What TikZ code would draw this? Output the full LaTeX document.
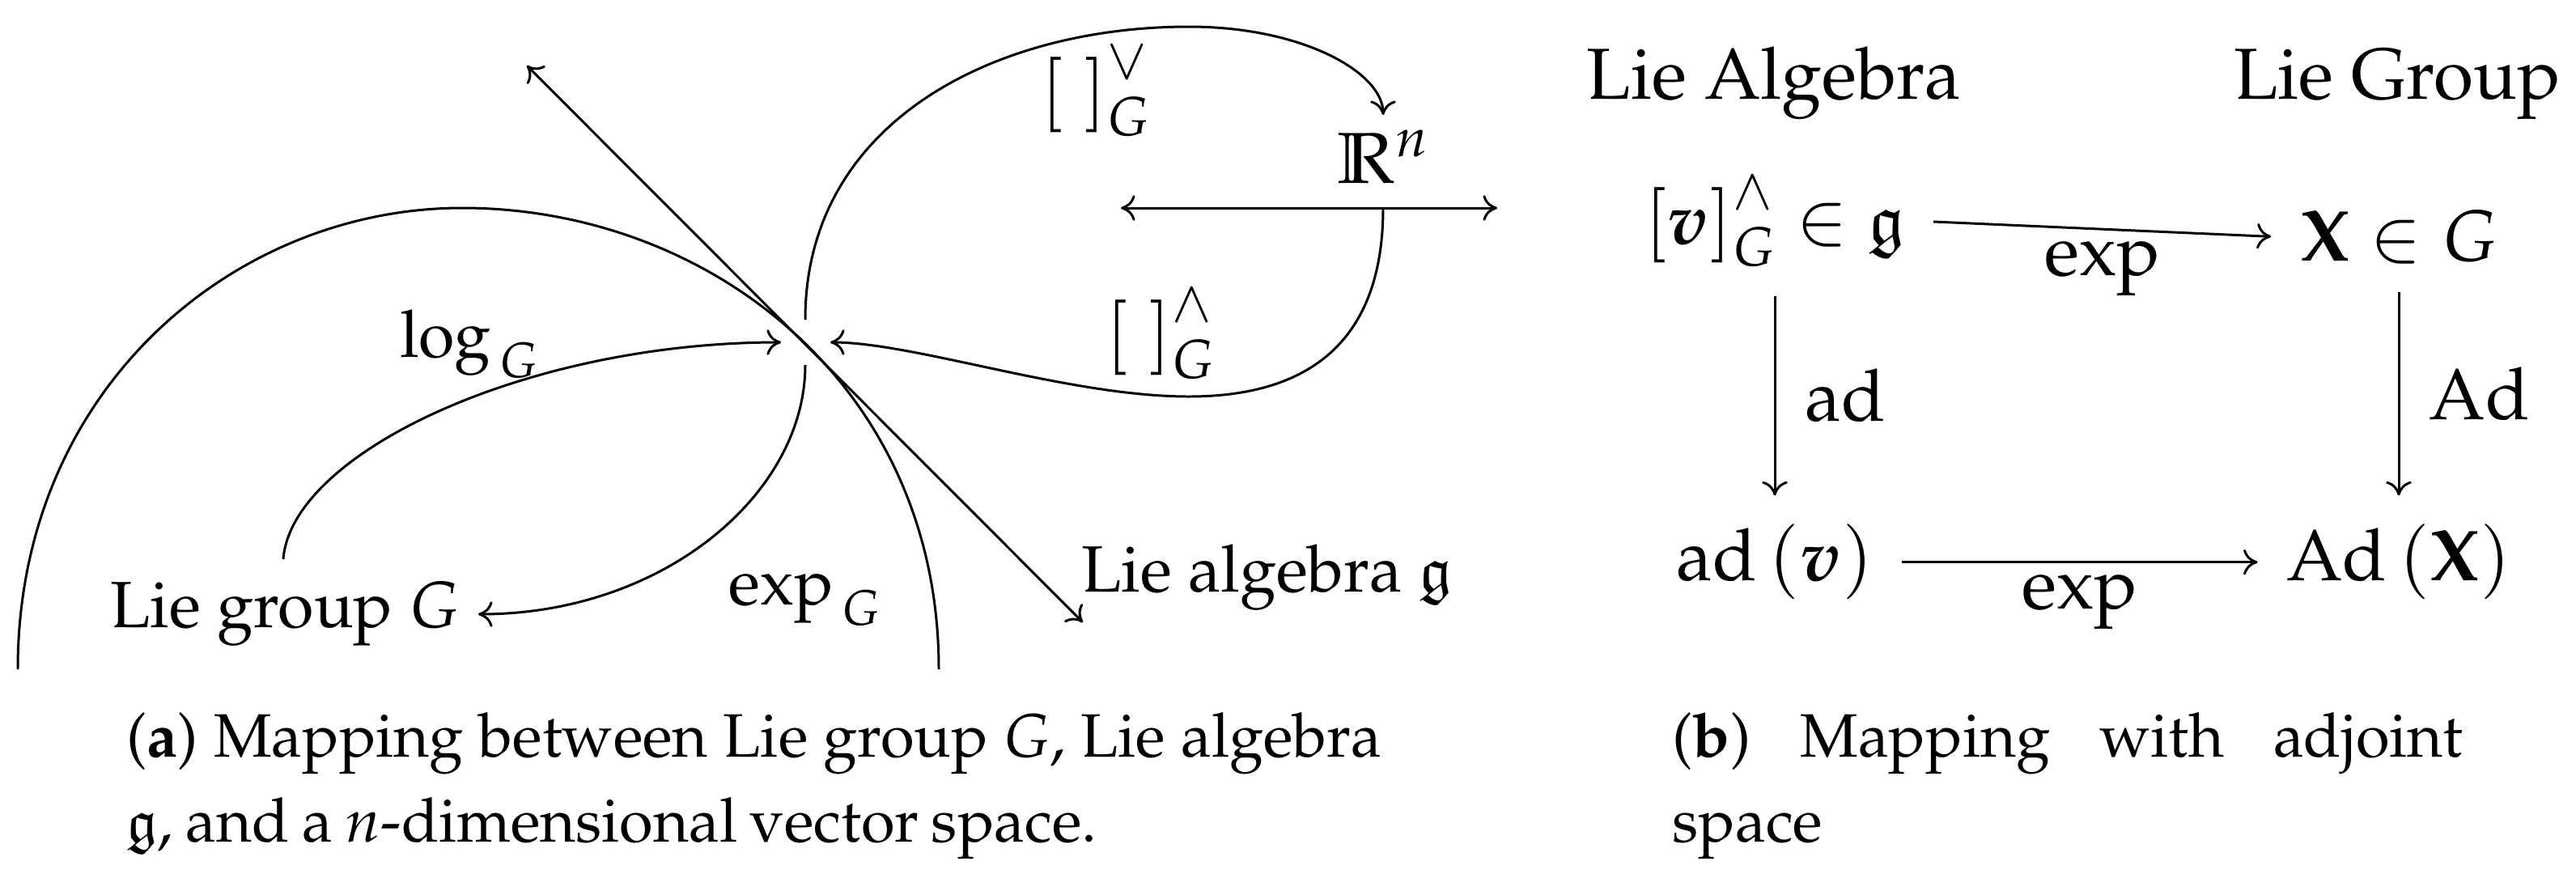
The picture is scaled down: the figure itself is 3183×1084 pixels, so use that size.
\documentclass[tikz,border=0pt]{standalone}
\usepackage[T1]{fontenc}
\usepackage{amsmath}
\usepackage{amssymb}
\usepackage{mathpazo}
\usepackage{tikz}
\usetikzlibrary{arrows.meta}
\newcommand{\smallop}[1]{\scalebox{0.78}{$#1$}}
\begin{document}
\begin{tikzpicture}[
        x=0.01cm, y=-0.01cm,
        >={Computer Modern Rightarrow[length=5pt, width=9pt]},
        % Styles
        lbl/.style={inner sep=0pt, anchor=base, font=\fontsize{23}{28}\selectfont},
        biglbl/.style={inner sep=0pt, anchor=base, font=\fontsize{25.4}{30}\selectfont},
        term/.style={inner sep=0.35cm, anchor=base, font=\fontsize{25.4}{30}\selectfont},
        capt/.style={inner sep=0pt, anchor=base west, font=\fontsize{21.55}{26}\selectfont},
        arr/.style={->, line width=0.85pt},
        lab/.style={inner sep=0pt, font=\fontsize{25.4}{30}\selectfont},
    ]
        \useasboundingbox (0,0) rectangle (3183,1084);

        % === Points around the tangent point ===
        \coordinate (upS) at (995,395);
        \coordinate (downS) at (995,451);
        \coordinate (tipL) at (965,423);
        \coordinate (tipR) at (1026,423);
        \coordinate (gL) at (22,827);
        \coordinate (gT) at (571,257);
        \coordinate (gR) at (1160,827);
        \coordinate (tanA) at (651,81);
        \coordinate (tanB) at (1338,769);
        \coordinate (rnL) at (1385,257);
        \coordinate (rnR) at (1850,257);
        \coordinate (rnM) at (1709,257);
        \coordinate (rnTip) at (1709,142);

        % === LEFT PICTURE ===

        % Lie group arc and tangent line
        \draw[line width=0.85pt] (gL) .. controls (22,480) and (290,257) .. (gT)
            .. controls (875,257) and (1160,475) .. (gR);
        \draw[arr, <->] (tanA) -- (tanB);

        % Labels
        \node[lbl] (lgroup) at (352,775) {Lie group $G$};
        \node[lbl] (lalg) at (1565,731) {Lie algebra $\mathfrak{g}$};
        \node[biglbl] (rn) at (1709,226) {$\mathbb{R}^n$};
        \node[lbl] (logG) at (580,441) {$\log_{\,G}$};
        \node[lbl] (expG) at (995,747) {$\exp_{\,G}$};
        \node[biglbl] (veeG) at (1354,140) {$\left[\;\right]^{\smallop{\vee}}_{G}$};
        \node[biglbl] (wedgeG) at (1434,440) {$\left[\;\right]^{\smallop{\wedge}}_{G}$};

        % R^n line
        \draw[arr, <->] (rnL) -- (rnR);

        % Maps
        \draw[arr] (upS) .. controls (995,150) and (1230,33) .. (1469,33)
            .. controls (1610,33) and (1709,90) .. (rnTip);
        \draw[arr] (rnM) .. controls (1709,400) and (1640,490) .. (1469,490)
            .. controls (1320,490) and (1130,423) .. (tipR);
        \draw[arr] (350,691) .. controls (360,560) and (650,423) .. (tipL);
        \draw[arr] (downS) .. controls (995,610) and (820,759) .. (591,759);

        % === RIGHT PICTURE ===
        \node[biglbl] (hAlg) at (2192,122) {Lie Algebra};
        \node[biglbl] (hGrp) at (2962,122) {Lie Group};

        \node[term] (vhat) at (2193,301) {$\left[\boldsymbol{v}\right]^{\smallop{\wedge}}_{G}\in\mathfrak{g}$};
        \node[term] (xg) at (2964,322) {$\mathbf{X}\in G$};
        \node[term] (adv) at (2193,717) {$\mathrm{ad}\left(\boldsymbol{v}\right)$};
        \node[term] (adx) at (2964,717) {$\mathrm{Ad}\left(\mathbf{X}\right)$};

        \draw[arr] (vhat.east) -- node[lab, below=0.14cm] (e1) {$\exp$} (xg.west);
        \draw[arr] (adv.east) -- node[lab, below=0.14cm] (e2) {$\exp$} (adx.west);
        \draw[arr] (vhat.south) -- node[lab, right=0.36cm] (a1) {$\mathrm{ad}$} (adv.north);
        \draw[arr] (xg.south) -- node[lab, right=0.36cm] (a2) {$\mathrm{Ad}$} (adx.north);

        % === CAPTIONS ===
        \node[capt] (capA1) at (156,935) {(\textbf{a}) Mapping between Lie group $G$, Lie algebra};
        \node[capt] (capA2) at (156,1040) {\makebox[11.98cm][s]{$\mathfrak{g}$, and a $n$-dimensional vector space.}};
        \node[capt] (capB1) at (2066,935) {\makebox[9.76cm][s]{(\textbf{b}) Mapping with adjoint}};
        \node[capt] (capB2) at (2066,1040) {space};
    \end{tikzpicture}
\end{document}
